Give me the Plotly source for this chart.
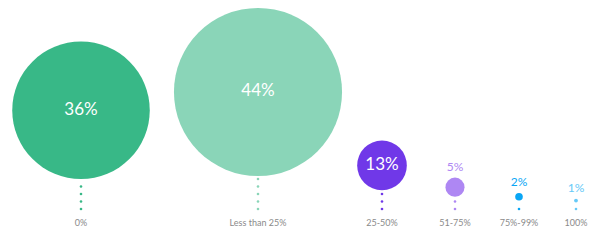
import math
import plotly.graph_objects as go

# ---- data ----
categories = ["0%", "Less than 25%", "25-50%", "51-75%", "75%-99%", "100%"]
values = [36, 44, 13, 5, 2, 1]
value_labels = ["36%", "44%", "13%", "5%", "2%", "1%"]
colors = ["#38b887", "#8ad5b8", "#7038e8", "#ae87f3", "#0aa6f5", "#66c9f7"]

# ---- layout constants (pixel-like axis units) ----
W, H = 600, 241
slot_x = [81, 258, 382, 455, 519, 576]   # column centres on the x axis
baseline = 209                          # where the dotted stems end
label_y = 224
px_per_pct = 3.82                       # bubble diameter per percentage point
dot_step = 7.5
font = "Lato, 'Open Sans', sans-serif"

fig = go.Figure()

cx, cy, diam, tops = [], [], [], []
dots_x, dots_y, dots_c = [], [], []
for i, v in enumerate(values):
    d = v * px_per_pct
    r = d / 2
    stem = 3.4 * math.sqrt(r) + 1.8
    centre = baseline - stem - r
    cx.append(slot_x[i]); cy.append(centre); diam.append(d); tops.append(centre - r)
    bottom = centre + r
    y = baseline
    while y >= bottom + 1:
        dots_x.append(slot_x[i]); dots_y.append(y); dots_c.append(colors[i])
        y -= dot_step

# dotted stems
fig.add_trace(go.Scatter(x=dots_x, y=dots_y, mode="markers",
                         marker=dict(size=2.6, color=dots_c, line=dict(width=0)),
                         hoverinfo="skip", showlegend=False))

# bubbles
fig.add_trace(go.Scatter(x=cx, y=cy, mode="markers",
                         marker=dict(size=diam, sizemode="diameter", color=colors,
                                     line=dict(width=0), opacity=1),
                         hoverinfo="skip", showlegend=False))

# value labels
in_x, in_y, in_t = [], [], []
out_x, out_y, out_t, out_c = [], [], [], []
for i, v in enumerate(values):
    if diam[i] > 30:
        in_x.append(cx[i]); in_y.append(cy[i]); in_t.append(value_labels[i])
    else:
        out_x.append(cx[i]); out_y.append(tops[i] - 10); out_t.append(value_labels[i]); out_c.append(colors[i])

fig.add_trace(go.Scatter(x=in_x, y=in_y, mode="text", text=in_t,
                         textfont=dict(family=font, size=17, color="white"),
                         textposition="middle center", hoverinfo="skip", showlegend=False))
fig.add_trace(go.Scatter(x=out_x, y=out_y, mode="text", text=out_t,
                         textfont=dict(family=font, size=12, color=out_c),
                         textposition="middle center", hoverinfo="skip", showlegend=False))

# category labels
fig.add_trace(go.Scatter(x=slot_x, y=[label_y] * len(categories), mode="text", text=categories,
                         textfont=dict(family=font, size=9, color="#8a8a8a"),
                         textposition="middle center", hoverinfo="skip", showlegend=False))

fig.update_layout(
    width=W, height=H,
    margin=dict(l=0, r=0, t=0, b=0),
    paper_bgcolor="white", plot_bgcolor="white",
    xaxis=dict(range=[0, W], visible=False, fixedrange=True),
    yaxis=dict(range=[H, 0], visible=False, fixedrange=True),
    showlegend=False,
)

fig.write_html("out.html", config={"displayModeBar": False})
